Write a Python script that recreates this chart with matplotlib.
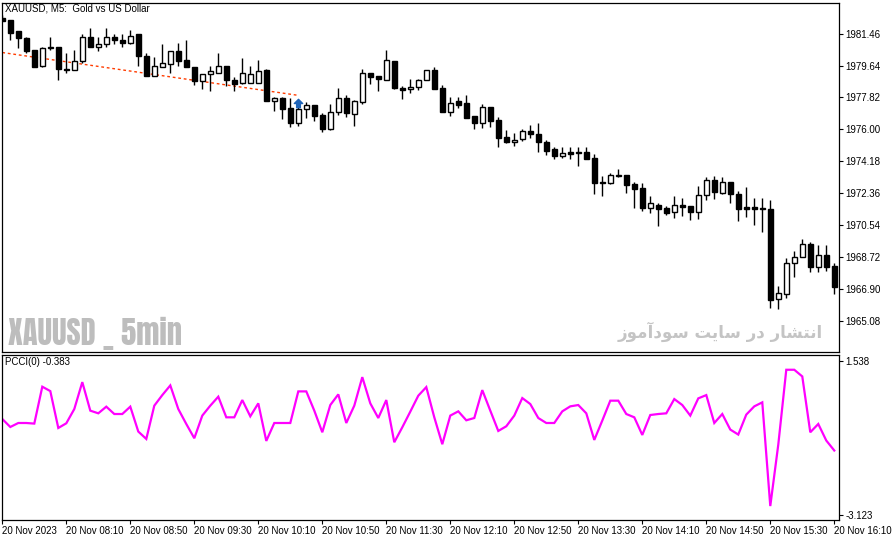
import matplotlib
matplotlib.use("Agg")
import matplotlib.pyplot as plt
from matplotlib.patches import Rectangle
from matplotlib.path import Path

# XAUUSD M5 candles, 20 Nov 2023 07:30 .. 16:10
opens = [1982.37, 1982.26, 1981.58, 1981.18, 1980.50, 1979.59, 1980.61, 1980.72, 1979.42, 1979.36,
         1979.87, 1981.29, 1980.67, 1980.84, 1981.29, 1981.12, 1980.95, 1981.41, 1980.21, 1979.07,
         1979.53, 1979.70, 1980.44, 1979.93, 1979.53, 1978.73, 1979.13, 1979.19, 1979.59, 1978.79,
         1978.62, 1978.62, 1978.62, 1979.36, 1977.60, 1977.77, 1977.20, 1976.34, 1977.14, 1977.37,
         1976.80, 1976.00, 1976.97, 1977.77, 1976.86, 1977.54, 1979.19, 1979.02, 1978.79, 1979.87,
         1978.34, 1978.28, 1978.39, 1978.79, 1979.36, 1978.34, 1976.97, 1977.60, 1977.48, 1976.74,
         1976.34, 1977.25, 1976.52, 1975.55, 1975.26, 1975.43, 1975.89, 1975.72, 1975.26, 1974.87,
         1974.47, 1974.70, 1974.70, 1974.70, 1974.35, 1972.99, 1972.93, 1973.33, 1973.39, 1972.88,
         1972.65, 1971.51, 1971.68, 1971.51, 1971.28, 1971.68, 1971.62, 1971.28, 1972.25, 1973.10,
         1972.36, 1972.99, 1972.31, 1971.57, 1971.57, 1971.51, 1971.45, 1966.34, 1966.62, 1968.38,
         1968.72, 1969.46, 1968.15, 1968.84, 1968.21]
closes = [1982.20, 1981.52, 1981.18, 1980.44, 1979.53, 1980.61, 1980.72, 1979.42, 1979.36, 1979.87,
          1981.29, 1980.67, 1980.84, 1981.29, 1981.12, 1980.95, 1981.35, 1980.16, 1979.07, 1979.59,
          1979.76, 1980.44, 1979.87, 1979.53, 1978.73, 1979.13, 1979.30, 1979.59, 1978.79, 1978.56,
          1979.19, 1979.13, 1979.30, 1977.60, 1977.77, 1977.14, 1976.34, 1977.14, 1977.37, 1976.74,
          1976.00, 1976.97, 1977.77, 1976.91, 1977.60, 1979.19, 1978.96, 1978.85, 1979.93, 1978.34,
          1978.22, 1978.39, 1978.79, 1979.36, 1978.28, 1976.97, 1977.48, 1977.37, 1976.63, 1976.34,
          1977.25, 1976.46, 1975.49, 1975.26, 1975.38, 1975.89, 1975.72, 1975.26, 1974.75, 1974.47,
          1974.64, 1974.58, 1974.64, 1974.30, 1972.93, 1972.93, 1973.39, 1973.39, 1972.82, 1972.59,
          1971.51, 1971.79, 1971.45, 1971.23, 1971.68, 1971.57, 1971.28, 1972.25, 1973.10, 1972.42,
          1972.99, 1972.31, 1971.45, 1971.45, 1971.45, 1971.45, 1966.28, 1966.68, 1968.38, 1968.72,
          1969.46, 1968.15, 1968.84, 1968.15, 1967.02]
highs = [1982.54, 1982.26, 1981.63, 1981.24, 1980.55, 1980.72, 1981.24, 1980.72, 1980.33, 1980.50,
         1981.41, 1981.80, 1981.24, 1981.80, 1981.46, 1981.46, 1981.69, 1981.41, 1980.38, 1980.10,
         1980.84, 1980.44, 1980.95, 1981.07, 1979.53, 1979.13, 1979.64, 1980.38, 1979.59, 1978.96,
         1980.04, 1979.64, 1979.93, 1979.47, 1977.82, 1977.82, 1977.77, 1977.37, 1977.54, 1977.37,
         1976.91, 1977.43, 1978.34, 1977.94, 1977.65, 1979.47, 1979.19, 1979.07, 1980.50, 1979.87,
         1978.45, 1978.85, 1978.90, 1979.36, 1979.53, 1978.51, 1977.82, 1977.82, 1977.94, 1976.74,
         1977.43, 1977.25, 1976.69, 1975.95, 1975.78, 1976.00, 1976.23, 1976.34, 1975.38, 1974.98,
         1974.98, 1974.98, 1974.98, 1974.98, 1974.58, 1973.33, 1973.50, 1973.73, 1973.39, 1972.99,
         1972.93, 1972.19, 1971.79, 1971.62, 1972.19, 1972.08, 1971.62, 1972.76, 1973.27, 1973.33,
         1973.27, 1972.99, 1972.48, 1972.70, 1972.08, 1972.08, 1971.97, 1967.07, 1968.67, 1969.06,
         1969.75, 1969.58, 1969.41, 1969.41, 1968.38]
lows = [1982.15, 1981.12, 1980.61, 1980.33, 1979.53, 1979.53, 1980.55, 1978.79, 1979.19, 1979.36,
        1979.81, 1980.67, 1980.44, 1980.67, 1980.84, 1980.72, 1980.89, 1979.64, 1979.02, 1979.02,
        1979.53, 1979.19, 1979.59, 1979.53, 1978.51, 1978.28, 1978.16, 1979.19, 1978.45, 1978.16,
        1978.56, 1978.62, 1978.62, 1977.60, 1977.03, 1976.57, 1976.12, 1976.17, 1976.63, 1976.46,
        1975.83, 1975.95, 1976.80, 1976.69, 1976.17, 1977.43, 1978.56, 1978.16, 1978.79, 1978.28,
        1977.71, 1978.05, 1978.22, 1978.79, 1978.28, 1976.97, 1976.74, 1977.20, 1976.63, 1976.00,
        1976.06, 1976.12, 1974.98, 1975.21, 1975.04, 1975.32, 1975.49, 1974.70, 1974.52, 1974.30,
        1974.35, 1974.30, 1973.90, 1974.30, 1972.31, 1972.19, 1972.88, 1973.27, 1972.36, 1971.51,
        1971.34, 1971.23, 1970.49, 1971.11, 1970.94, 1971.06, 1970.83, 1970.88, 1971.97, 1972.02,
        1972.31, 1971.79, 1970.77, 1971.00, 1970.54, 1970.15, 1965.83, 1965.77, 1966.39, 1967.59,
        1968.72, 1967.87, 1967.87, 1967.93, 1966.62]

pcci = [-0.225, -0.467, -0.346, -0.346, -0.364, 0.753, 0.620, -0.497, -0.355, 0.077,
        0.892, 0.028, -0.053, 0.149, -0.074, -0.074, 0.149, -0.605, -0.829, 0.179,
        0.499, 0.792, 0.077, -0.376, -0.808, -0.122, 0.179, 0.451, -0.174, -0.174,
        0.349, -0.144, 0.249, -0.889, -0.346, -0.346, -0.346, 0.611, 0.611, 0.028,
        -0.627, 0.198, 0.521, -0.346, 0.179, 1.043, 0.249, -0.195, 0.349, -0.929,
        -0.476, -0.002, 0.481, 0.741, -0.174, -0.989, -0.122, 0.007, -0.264, -0.195,
        0.650, 0.028, -0.587, -0.445, -0.122, 0.409, 0.228, -0.195, -0.346, -0.346,
        0.007, 0.158, 0.198, -0.053, -0.859, -0.273, 0.330, 0.330, -0.074, -0.174,
        -0.708, -0.104, -0.074, -0.053, 0.379, 0.198, -0.122, 0.400, 0.499, -0.346,
        -0.074, -0.545, -0.696, -0.092, 0.158, 0.279, -2.861, -1.000, 1.266, 1.266,
        1.064, -0.627, -0.376, -0.877, -1.179]

price_ticks = [1981.46, 1979.64, 1977.82, 1976.00, 1974.18, 1972.36, 1970.54, 1968.72, 1966.90, 1965.08]
pcci_ticks = [1.538, -3.123]
time_labels = ["20 Nov 2023", "20 Nov 08:10", "20 Nov 08:50", "20 Nov 09:30", "20 Nov 10:10",
               "20 Nov 10:50", "20 Nov 11:30", "20 Nov 12:10", "20 Nov 12:50", "20 Nov 13:30",
               "20 Nov 14:10", "20 Nov 14:50", "20 Nov 15:30", "20 Nov 16:10"]
label_every = 8  # one label per 40 minutes

# trend line and buy arrow drawn on the chart
trend_idx = [0, 37]
trend_price = [1980.38, 1977.94]
arrow_idx = 37
arrow_price = 1977.50

plt.rcParams['font.family'] = ['Liberation Sans', 'DejaVu Sans']
FS = 7

W, H = 892, 541
fig = plt.figure(figsize=(W / 100, H / 100), dpi=100)
fig.patch.set_facecolor('white')

left = 1.5 / W
width = (839 - 1.5) / W
ax = fig.add_axes([left, (H - 352) / H, width, (352 - 2.5) / H])
ax2 = fig.add_axes([left, (H - 520) / H, width, (520 - 354.5) / H])

n = len(opens)
idx = list(range(n))

# candles
ax.vlines(idx, lows, highs, color='black', lw=1.0, zorder=2)
for i in idx:
    o, c = opens[i], closes[i]
    bottom = min(o, c)
    h = abs(c - o)
    fc = 'white' if c > o else 'black'
    ax.add_patch(Rectangle((i - 0.28, bottom), 0.56, h, facecolor=fc,
                           edgecolor='black', lw=1.0, zorder=3))

ax.plot(trend_idx, trend_price, color='#ff3c00', lw=1.0, ls=(0, (2, 2)), zorder=1)

arrow = Path([(0, 1), (-1, 0), (-0.45, 0), (-0.45, -1), (0.45, -1), (0.45, 0), (1, 0), (0, 1)],
             [Path.MOVETO] + [Path.LINETO] * 6 + [Path.CLOSEPOLY])
ax.plot([arrow_idx], [arrow_price], marker=arrow, ms=6, color='#1f64b8', mec='#1f64b8', zorder=4)

ax.set_xlim(-0.1, 104.59)
ax.set_ylim(1963.32, 1983.23)
ax.yaxis.tick_right()
ax.set_yticks(price_ticks)
ax.set_yticklabels([f"{p:.2f}" for p in price_ticks], fontsize=FS)
ax.set_xticks([])
ax.tick_params(axis='y', direction='out', length=3, width=0.8, pad=1.5)

ax.text(0.004, 0.997, "XAUUSD, M5:  Gold vs US Dollar", transform=ax.transAxes,
        ha='left', va='top', fontsize=FS)

# indicator panel
ax2.plot(idx, pcci, color='#ff00ff', lw=1.6, solid_joinstyle='miter')
ax2.set_xlim(-0.1, 104.59)
ax2.set_ylim(-3.283, 1.728)
ax2.yaxis.tick_right()
ax2.set_yticks(pcci_ticks)
ax2.set_yticklabels([f"{v:.3f}" for v in pcci_ticks], fontsize=FS)
ax2.set_xticks(idx[::label_every])
ax2.set_xticklabels(time_labels, fontsize=FS, ha='left')
ax2.tick_params(axis='both', direction='out', length=3, width=0.8, pad=1.5)
ax2.text(0.004, 0.985, "PCCI(0) -0.383", transform=ax2.transAxes,
         ha='left', va='top', fontsize=FS)

for a in (ax, ax2):
    for s in a.spines.values():
        s.set_linewidth(0.9)
        s.set_color('black')

# watermarks
fig.text(8 / W, 1 - 333 / H, "XAUUSD _ 5min", ha='left', va='center',
         fontsize=22, color='#bdbdbd', family=['Anton', 'DejaVu Sans'])
# Persian text in presentation forms, visual (left-to-right) order
persian = ('\uFEAF\uFEEE\uFEE3\uFE81\uFEA9\uFEEE\uFEB3 \uFE96\uFEF3\uFE8E\uFEB3 '
           '\uFEAD\uFEA9 \uFEAD\uFE8E\uFEB8\uFE98\uFEE7\uFE8D')
fig.text(823 / W, 1 - 332 / H, persian, ha='right', va='center',
         fontsize=12, fontweight='bold', color='#c4c4c4', family=['DejaVu Sans'])

fig.savefig('out.png', dpi=100)
